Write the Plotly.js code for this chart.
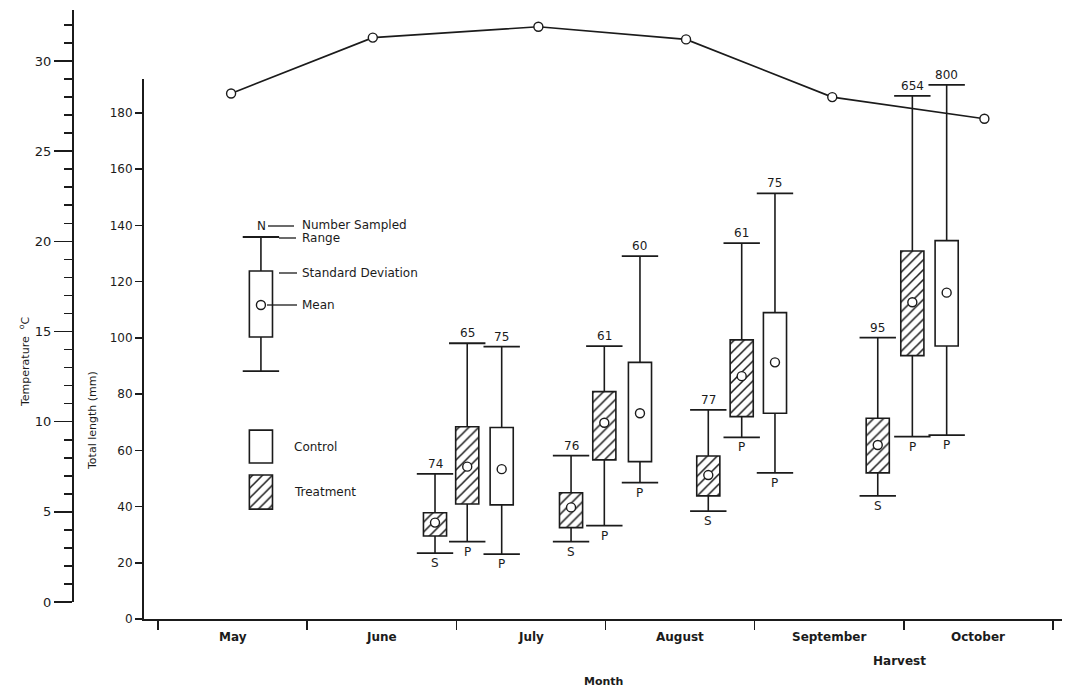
<!DOCTYPE html>
<html><head><meta charset="utf-8">
<script src="https://cdn.plot.ly/plotly-3.0.1.min.js"></script>
<style>html,body{margin:0;padding:0;background:#fff;} #chart{width:1070px;height:688px;}</style>
</head><body><div id="chart"></div>
<script>
// ---------------- DATA ----------------
const months = ['May', 'June', 'July', 'August', 'September', 'October'];
const monthTicks = [0, 1, 2, 3, 4, 5, 6];          // month boundaries (months since 1 May)
const lengthTicks = [0, 20, 40, 60, 80, 100, 120, 140, 160, 180];
const tempTicks = [0, 5, 10, 15, 20, 25, 30];

// Water temperature (deg C)
const tempTime = [0.49, 1.44, 2.55, 3.54, 4.52, 5.54];
const tempC = [28.2, 31.3, 31.9, 31.2, 28.0, 26.8];

// Total length samples (mm)
const sampleTime = [1.857, 2.073, 2.304, 2.769, 2.992, 3.231, 3.689, 3.913, 4.136, 4.825, 5.057, 5.287];
const group      = ['T', 'T', 'C', 'T', 'T', 'C', 'T', 'T', 'C', 'T', 'T', 'C'];
const stage      = ['S', 'P', 'P', 'S', 'P', 'P', 'S', 'P', 'P', 'S', 'P', 'P'];
const nSampled   = [74, 65, 75, 76, 61, 60, 77, 61, 75, 95, 654, 800];
const rangeMin   = [23.4, 27.5, 23.1, 27.5, 33.2, 48.5, 38.4, 64.6, 52.0, 43.8, 64.9, 65.4];
const rangeMax   = [51.6, 98.1, 96.9, 58.1, 97.1, 129.1, 74.4, 133.7, 151.4, 100.1, 186.1, 190.0];
const sdLow      = [29.5, 40.9, 40.6, 32.5, 56.6, 56.0, 43.8, 72.0, 73.2, 52.0, 93.7, 97.1];
const sdHigh     = [37.8, 68.4, 68.1, 44.9, 80.9, 91.3, 58.0, 99.3, 109.0, 71.4, 130.9, 134.6];
const meanLen    = [34.3, 54.2, 53.3, 39.7, 69.8, 73.2, 51.2, 86.4, 91.3, 61.9, 112.7, 116.1];

// Explanatory key (schematic box)
const keyTime = [0.69];
const keyMin = [88.2], keyLow = [100.3], keyMean = [111.7], keyHigh = [123.8], keyMax = [135.9];
const swatchTime = [0.69, 0.69];
const swatchGroup = ['C', 'T'];
const swatchLow = [55.5, 39.1], swatchHigh = [67.2, 51.2];
const swatchLabels = ['Control', 'Treatment'];

// ---------------- STYLE / HELPERS ----------------
const ink = '#1b1b1b';
const W = 1070, H = 688;
const px2x = p => p / W;
const px2y = p => 1 - p / H;
const FONT = 'DejaVu Sans';
const boxW = 0.155;

function pick(arr, idx) { return idx.map(i => arr[i]); }
const idxT = group.map((g, i) => g === 'T' ? i : -1).filter(i => i >= 0);
const idxC = group.map((g, i) => g === 'C' ? i : -1).filter(i => i >= 0);

function barTrace(xs, lo, hi, hatched) {
  const t = {
    type: 'bar', x: xs, base: lo, y: hi.map((h, i) => h - lo[i]), width: boxW,
    marker: { color: 'white', line: { color: ink, width: 1.6 } },
    hoverinfo: 'skip', xaxis: 'x', yaxis: 'y'
  };
  if (hatched) t.marker.pattern = { shape: '/', fgcolor: ink, bgcolor: 'white', size: 7, solidity: 0.22 };
  return t;
}
function whiskerTrace(xs, mn, lo, hi, mx) {
  const X = [], Y = [];
  xs.forEach((x, i) => { X.push(x, x, null, x, x, null); Y.push(mn[i], lo[i], null, hi[i], mx[i], null); });
  return { type: 'scatter', mode: 'lines', x: X, y: Y, line: { color: ink, width: 1.6 }, hoverinfo: 'skip', connectgaps: false };
}
function capTrace(xs, mn, mx) {
  return { type: 'scatter', mode: 'markers', x: xs.concat(xs), y: mn.concat(mx),
    marker: { symbol: 'line-ew', size: 26, line: { color: ink, width: 1.8 } }, hoverinfo: 'skip' };
}
function meanTrace(xs, m) {
  return { type: 'scatter', mode: 'markers', x: xs, y: m,
    marker: { symbol: 'circle', size: 9, color: 'white', line: { color: ink, width: 1.4 } }, hoverinfo: 'skip' };
}

const traces = [
  barTrace(pick(sampleTime, idxT), pick(sdLow, idxT), pick(sdHigh, idxT), true),
  barTrace(pick(sampleTime, idxC), pick(sdLow, idxC), pick(sdHigh, idxC), false),
  barTrace(keyTime, keyLow, keyHigh, false),
  barTrace(swatchTime.filter((_, i) => swatchGroup[i] === 'C'), swatchLow.filter((_, i) => swatchGroup[i] === 'C'), swatchHigh.filter((_, i) => swatchGroup[i] === 'C'), false),
  barTrace(swatchTime.filter((_, i) => swatchGroup[i] === 'T'), swatchLow.filter((_, i) => swatchGroup[i] === 'T'), swatchHigh.filter((_, i) => swatchGroup[i] === 'T'), true),
  whiskerTrace(sampleTime, rangeMin, sdLow, sdHigh, rangeMax),
  whiskerTrace(keyTime, keyMin, keyLow, keyHigh, keyMax),
  capTrace(sampleTime, rangeMin, rangeMax),
  capTrace(keyTime, keyMin, keyMax),
  meanTrace(sampleTime, meanLen),
  meanTrace(keyTime, keyMean),
  { type: 'scatter', mode: 'lines+markers', x: tempTime, y: tempC, xaxis: 'x', yaxis: 'y2',
    line: { color: ink, width: 1.7 },
    marker: { symbol: 'circle', size: 9, color: 'white', line: { color: ink, width: 1.4 } }, hoverinfo: 'skip' }
];

// ---------------- ANNOTATIONS / KEY ----------------
const ann = [];
function A(o) { ann.push(Object.assign({ showarrow: false, xanchor: 'center', yanchor: 'middle', font: { family: FONT, size: 12, color: ink } }, o)); }
// sample size above each range bar, life stage below
sampleTime.forEach((x, i) => {
  A({ xref: 'x', yref: 'y', x: x, y: rangeMax[i], yshift: 10, text: String(nSampled[i]) });
  A({ xref: 'x', yref: 'y', x: x, y: rangeMin[i], yshift: -10, text: stage[i] });
});
months.forEach((m, i) => A({ xref: 'x', yref: 'paper', x: i + 0.5, y: px2y(637), text: '<b>' + m + '</b>' }));
A({ xref: 'x', yref: 'paper', x: 4.97, y: px2y(661), text: '<b>Harvest</b>' });
A({ xref: 'paper', yref: 'paper', x: px2x(603), y: px2y(681), text: '<b>Month</b>', font: { family: FONT, size: 11, color: ink } });
A({ xref: 'paper', yref: 'paper', x: px2x(92), y: px2y(421), text: 'Total length (mm)', textangle: -90, font: { family: FONT, size: 11, color: ink } });
A({ xref: 'paper', yref: 'paper', x: px2x(24), y: px2y(362), text: 'Temperature  <sup>o</sup>C', textangle: -90, font: { family: FONT, size: 11, color: ink } });
// key labels
const keyText = [['N', 261, 226, 'center'], ['Number Sampled', 300, 225, 'left'], ['Range', 300, 238, 'left'],
  ['Standard Deviation', 300, 273, 'left'], ['Mean', 300, 305, 'left']];
keyText.forEach(k => A({ xref: 'paper', yref: 'paper', x: px2x(k[1]), y: px2y(k[2]), xanchor: k[3], text: k[0] }));
swatchLabels.forEach((s, i) => A({ xref: 'paper', yref: 'y', x: px2x(292), y: (swatchLow[i] + swatchHigh[i]) / 2, xanchor: 'left', text: s }));

const keyLines = [[268, 294, 226], [279, 296, 238], [279, 297, 273], [267, 297, 305]];
const shapes = keyLines.map(l => ({ type: 'line', xref: 'paper', yref: 'paper', x0: px2x(l[0]), x1: px2x(l[1]), y0: px2y(l[2]), y1: px2y(l[2]),
  line: { color: ink, width: 1.3 } }));

const axisCommon = { showline: true, linecolor: ink, linewidth: 2, ticks: 'outside', tickcolor: ink, tickwidth: 1.6,
  showgrid: false, zeroline: false, automargin: false, fixedrange: true, tickfont: { family: FONT, size: 12, color: ink } };

const layout = {
  width: W, height: H, margin: { l: 0, r: 0, t: 0, b: 0 }, paper_bgcolor: 'white', plot_bgcolor: 'rgba(0,0,0,0)',
  showlegend: false, barmode: 'overlay', font: { family: FONT, color: ink, size: 12 },
  xaxis: Object.assign({}, axisCommon, { domain: [px2x(144), px2x(1062)], range: [(144 - 158) / 149.17, (1062 - 158) / 149.17],
    anchor: 'y', tickmode: 'array', tickvals: monthTicks, ticklen: 9, showticklabels: false }),
  yaxis: Object.assign({}, axisCommon, { domain: [px2y(619), px2y(79)], range: [0, 192.1], anchor: 'x',
    tickmode: 'array', tickvals: lengthTicks, ticklen: 7 }),
  yaxis2: Object.assign({}, axisCommon, { domain: [px2y(602), px2y(10)], range: [0, 32.83], anchor: 'free', position: px2x(73), side: 'left',
    tickmode: 'array', tickvals: tempTicks, ticklen: 18, tickfont: { family: FONT, size: 13, color: ink },
    minor: { tickmode: 'linear', tick0: 0, dtick: 1, ticks: 'outside', ticklen: 8, tickwidth: 1.6, tickcolor: ink, showgrid: false } }),
  annotations: ann, shapes: shapes
};

Plotly.newPlot('chart', traces, layout, { displayModeBar: false, staticPlot: true });
</script></body></html>
